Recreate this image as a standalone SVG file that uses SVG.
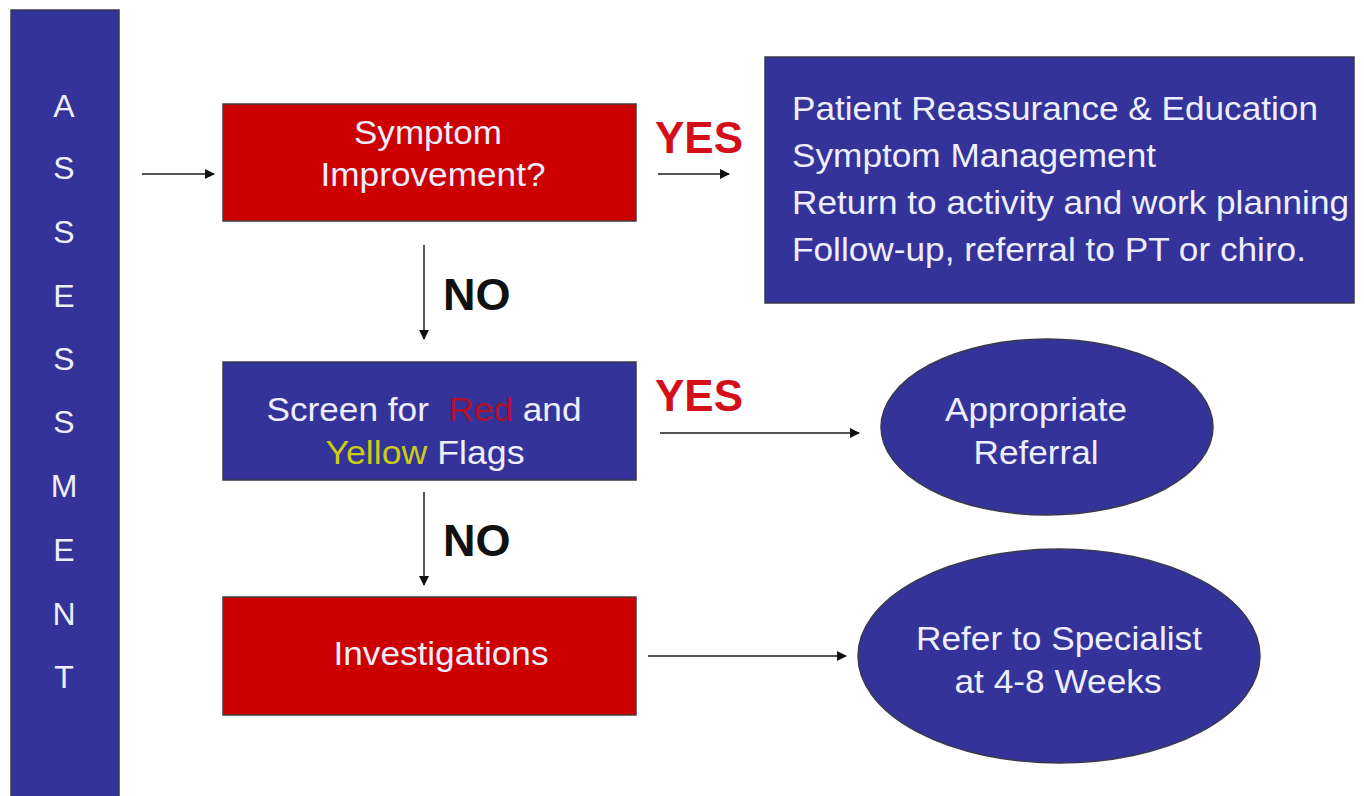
<svg xmlns="http://www.w3.org/2000/svg" width="1364" height="796" viewBox="0 0 1364 796">
<style>
.bg{fill:#ffffff}
.blue{fill:#333399;stroke:#3a3a4a;stroke-width:1.5}
.red{fill:#cc0000;stroke:#4a3a3a;stroke-width:1.5}
.t{font-family:"Liberation Sans",Arial,sans-serif;font-size:33px;fill:#eeeeff}
.tm{text-anchor:middle}
.bar{font-family:"Liberation Sans",Arial,sans-serif;font-size:32px;fill:#eeeeff;text-anchor:middle}
.yes{font-family:"Liberation Sans",Arial,sans-serif;font-size:44px;font-weight:bold;fill:#d40f1a}
.no{font-family:"Liberation Sans",Arial,sans-serif;font-size:45px;font-weight:bold;fill:#111111}
.c{stroke:#555555;stroke-width:2;fill:none;marker-end:url(#ah)}
</style>
<defs>
<marker id="ah" viewBox="0 0 10 10" refX="9" refY="5" markerWidth="5" markerHeight="5" orient="auto" markerUnits="strokeWidth">
<path d="M0,0 L10,5 L0,10 z" fill="#111111"/>
</marker>
</defs>
<rect class="bg" x="0" y="0" width="1364" height="796"/>

<g id="assessment">
<rect class="blue" x="11" y="10" width="108" height="800"/>
<text class="bar" x="64" y="117">A</text>
<text class="bar" x="64" y="179">S</text>
<text class="bar" x="64" y="243">S</text>
<text class="bar" x="64" y="307">E</text>
<text class="bar" x="64" y="370">S</text>
<text class="bar" x="64" y="433">S</text>
<text class="bar" x="64" y="497">M</text>
<text class="bar" x="64" y="561">E</text>
<text class="bar" x="64" y="625">N</text>
<text class="bar" x="64" y="688">T</text>
</g>

<g id="connectors">
<line class="c" x1="142" y1="174" x2="214" y2="174"/>
<line class="c" x1="658" y1="174" x2="729" y2="174"/>
<line class="c" x1="424" y1="245" x2="424" y2="339"/>
<line class="c" x1="660" y1="433" x2="859" y2="433"/>
<line class="c" x1="424" y1="492" x2="424" y2="585"/>
<line class="c" x1="648" y1="656" x2="846" y2="656"/>
</g>

<g id="labels">
<text class="yes" x="655" y="153">YES</text>
<text class="yes" x="655" y="411">YES</text>
<text class="no" x="443" y="310">NO</text>
<text class="no" x="443" y="556">NO</text>
</g>

<g id="symptom-improvement">
<rect class="red" x="223" y="104" width="413" height="117"/>
<text class="t tm" x="428" y="144" textLength="148" lengthAdjust="spacingAndGlyphs">Symptom</text>
<text class="t tm" x="433" y="186" textLength="225" lengthAdjust="spacingAndGlyphs">Improvement?</text>
</g>

<g id="management">
<rect class="blue" x="765" y="57" width="589" height="246"/>
<text class="t" x="792" y="120" textLength="526" lengthAdjust="spacingAndGlyphs">Patient Reassurance &amp; Education</text>
<text class="t" x="792" y="167" textLength="364" lengthAdjust="spacingAndGlyphs">Symptom Management</text>
<text class="t" x="792" y="214" textLength="557" lengthAdjust="spacingAndGlyphs">Return to activity and work planning</text>
<text class="t" x="792" y="261" textLength="514" lengthAdjust="spacingAndGlyphs">Follow-up, referral to PT or chiro.</text>
</g>

<g id="screen-flags">
<rect class="blue" x="223" y="362" width="413" height="118"/>
<text class="t tm" x="424" y="421" textLength="315" lengthAdjust="spacingAndGlyphs" xml:space="preserve">Screen for  <tspan fill="#b0102a">Red</tspan> and</text>
<text class="t tm" x="425" y="464" textLength="199" lengthAdjust="spacingAndGlyphs"><tspan fill="#cccc10">Yellow</tspan> Flags</text>
</g>

<g id="investigations">
<rect class="red" x="223" y="597" width="413" height="118"/>
<text class="t tm" x="441" y="665" textLength="215" lengthAdjust="spacingAndGlyphs">Investigations</text>
</g>

<g id="appropriate-referral">
<ellipse class="blue" cx="1047" cy="427" rx="166" ry="88"/>
<text class="t tm" x="1036" y="421" textLength="182" lengthAdjust="spacingAndGlyphs">Appropriate</text>
<text class="t tm" x="1036" y="464" textLength="125" lengthAdjust="spacingAndGlyphs">Referral</text>
</g>

<g id="refer-specialist">
<ellipse class="blue" cx="1059" cy="656" rx="201" ry="107"/>
<text class="t tm" x="1059" y="650" textLength="286" lengthAdjust="spacingAndGlyphs">Refer to Specialist</text>
<text class="t tm" x="1058" y="693" textLength="207" lengthAdjust="spacingAndGlyphs">at 4-8 Weeks</text>
</g>
</svg>
